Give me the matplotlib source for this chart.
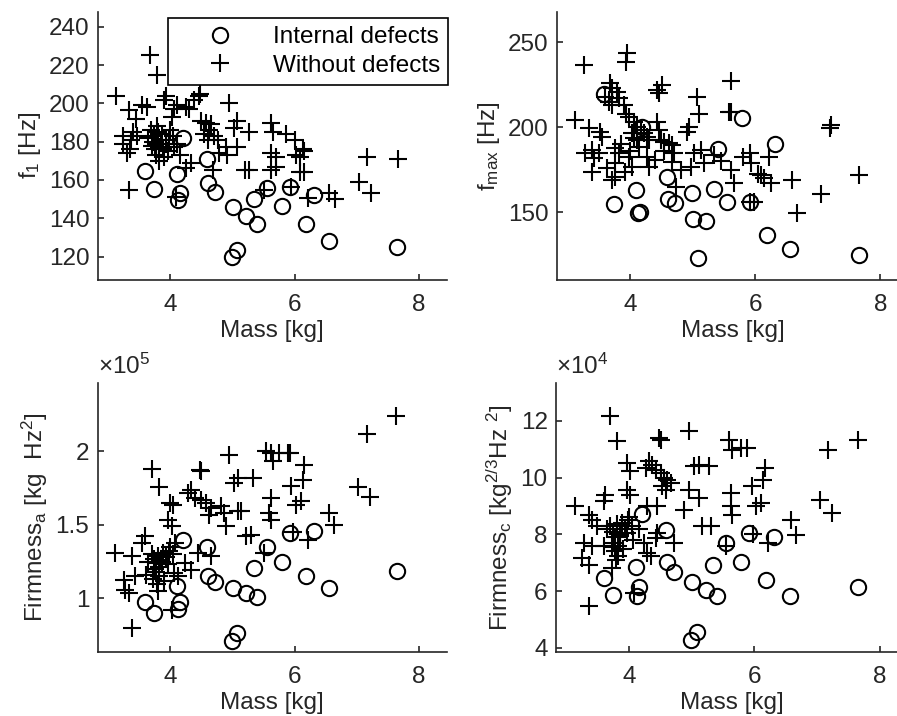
import matplotlib
matplotlib.use('Agg')
import matplotlib.pyplot as plt
from matplotlib.ticker import FuncFormatter

plt.rcParams['font.family'] = ['Liberation Sans', 'DejaVu Sans']
plt.rcParams['mathtext.fontset'] = 'custom'
plt.rcParams['mathtext.rm'] = 'Liberation Sans'
plt.rcParams['mathtext.it'] = 'Liberation Sans'
plt.rcParams['mathtext.bf'] = 'Liberation Sans:bold'

AXCOL = '#262626'
FS = 17.5

# ---- internal defects (same samples in all panels) ----
mass_def = [3.59, 3.74, 4.10, 4.13, 4.16, 4.20, 4.59, 4.60, 4.72, 5.01, 4.99, 5.08,
            5.22, 5.34, 5.40, 5.55, 5.79, 5.92, 6.19, 6.31, 6.56, 7.65]
f1_def = [164.7, 155.1, 163.0, 149.6, 153.4, 182.1, 170.8, 158.6, 153.9, 146.1, 120.0, 123.5,
          141.2, 150.1, 136.9, 156.0, 146.6, 156.2, 136.9, 152.2, 128.2, 125.2]
fmax_def = [219.4, 154.7, 163.1, 149.8, 150.5, 200.4, 171.0, 157.8, 155.3, 146.1, 161.2, 122.9,
            144.7, 163.7, 187.3, 155.9, 205.7, 156.3, 136.7, 190.2, 128.2, 124.9]
firm_a_def = [0.977, 0.898, 1.086, 0.925, 0.973, 1.396, 1.346, 1.152, 1.113, 1.068, 0.713, 0.762,
              1.034, 1.204, 1.011, 1.346, 1.249, 1.441, 1.154, 1.457, 1.072, 1.188]  # x1e5
firm_c_def = [6.45, 5.86, 6.86, 5.84, 6.15, 8.71, 8.15, 7.01, 6.68, 6.31, 4.27, 4.56,
              6.04, 6.92, 5.84, 7.71, 7.04, 8.04, 6.39, 7.92, 5.84, 6.13]  # x1e4

# ---- without defects, panel f1 ----
mass_ok_f1 = [3.68, 3.79, 3.12, 3.33, 3.45, 3.55, 3.62, 3.90, 3.93, 4.06, 4.03, 4.10, 4.25, 4.30,
              4.38, 4.46, 4.48, 4.95, 4.49, 4.57, 4.65, 4.62, 5.08, 5.03, 5.27, 5.62, 5.65, 5.86,
              6.00, 6.13, 6.16, 6.08, 6.03, 5.70, 5.62, 5.70, 5.62, 5.27, 5.21, 6.08, 6.16, 7.16,
              7.66, 7.03, 7.23, 6.56, 6.65, 6.21, 5.51, 5.94, 4.09, 3.33, 4.33, 4.25, 4.68, 4.89,
              4.92, 5.08, 4.79, 4.60, 4.54, 4.76, 4.70, 4.11, 4.15, 3.23, 3.23, 3.37, 3.35, 3.47,
              3.30, 3.40, 3.69, 3.74, 3.77, 3.80, 3.82, 3.85, 3.88, 3.77, 3.82, 3.93, 3.98, 4.04,
              4.06, 3.72, 3.75, 3.79, 3.86, 3.90, 3.96, 4.00, 3.70, 3.64]
f1_ok = [225, 215, 204, 196.5, 192, 199, 198, 202, 204, 197, 193, 199, 198, 197,
         202, 204, 205, 200, 191, 190, 189, 186, 191, 187, 185, 190, 185, 184,
         181, 176, 175, 172, 173, 172, 174, 167, 165, 165, 165, 164, 164, 172,
         171, 159, 153, 153, 150, 150.5, 155, 156.5, 151, 155, 169, 166, 165, 177,
         173, 177, 174, 181, 184, 181, 183, 179, 173, 183, 179, 181, 176, 183,
         174, 185, 186, 183, 179, 185, 177, 181, 176, 173, 170, 179, 181, 183,
         177, 180, 176, 188, 184, 172, 175, 186, 178, 182]

# ---- without defects, panel fmax ----
mass_ok_fmax = [3.26, 3.95, 3.93, 3.68, 3.71, 3.79, 3.82, 3.60, 3.66, 3.71, 3.90, 3.93, 3.98, 4.06,
                4.43, 4.46, 4.51, 5.07, 5.10, 5.61, 5.58, 3.12, 3.34, 3.52, 3.55, 4.94, 4.91, 4.11,
                4.17, 4.22, 4.27, 4.30, 4.43, 4.46, 4.03, 4.06, 4.49, 4.54, 4.62, 4.67, 3.39, 3.28,
                3.42, 3.39, 3.76, 3.82, 3.76, 3.76, 3.71, 3.98, 4.03, 4.27, 4.30, 4.70, 4.67, 4.73,
                4.81, 4.97, 5.02, 5.13, 5.18, 5.34, 5.61, 5.66, 5.91, 5.94, 5.91, 4.11, 4.14, 7.21,
                7.19, 7.66, 7.05, 6.66, 6.58, 6.22, 6.09, 6.14, 6.25, 5.98, 5.80, 3.50, 3.63, 3.86,
                3.92, 4.00, 4.40, 4.55, 5.45, 5.62, 6.04]
fmax_ok = [236.7, 243.5, 238.6, 225.9, 223.0, 221, 217, 218, 215, 213, 213, 208, 206, 203,
           222, 220, 225, 218, 208, 227, 209, 204.3, 199.4, 197.5, 194.5, 200.4, 197.5, 200.4,
           198.4, 196.5, 194.5, 192.5, 203.3, 198.4, 196.5, 193.5, 192.5, 191.6, 190.6, 189.6, 186.7, 184.7,
           181.8, 174.0, 187.6, 184.7, 178.8, 171.0, 169.0, 182.7, 176.9, 182.7, 176.9, 184.7, 179.8, 165.1,
           175, 176.9, 184.7, 186.7, 178.8, 183.7, 174.9, 167, 184.7, 178.8, 156.3, 192.5, 188.6, 201.4,
           199.4, 172.0, 160.8, 149.8, 169.0, 182.7, 172, 170, 167, 156.3, 182.7, 185, 176, 190,
           174, 186, 181, 186, 180, 209, 172.5]

# ---- without defects, panel firmness a (x1e5) ----
mass_ok_fa = [3.70, 4.47, 4.50, 3.82, 4.95, 5.03, 5.09, 5.33, 5.54, 5.62, 5.65, 5.75, 5.89, 5.94,
              5.62, 5.59, 5.62, 4.00, 4.05, 3.97, 4.02, 4.29, 4.34, 4.39, 4.50, 4.58, 4.66, 4.63,
              4.82, 4.87, 4.90, 5.09, 5.14, 5.22, 5.30, 3.59, 3.54, 3.38, 3.11, 3.25, 3.27, 3.33,
              3.43, 3.38, 4.23, 4.34, 4.45, 4.66, 4.07, 4.13, 4.02, 5.51, 7.64, 7.16, 7.02, 7.22,
              6.56, 6.64, 6.21, 6.16, 6.13, 6.11, 6.03, 5.92, 5.97, 3.70, 3.74, 3.77, 3.80, 3.82,
              3.85, 3.88, 3.77, 3.82, 3.93, 3.98, 4.04, 3.72, 3.75, 3.79, 3.86, 3.90, 3.96, 4.00,
              3.64, 3.60, 4.06, 3.80]
firm_a_ok = [1.878, 1.869, 1.862, 1.756, 1.975, 1.783, 1.817, 1.817, 1.998, 1.986, 1.930, 1.986, 1.986, 1.760,
             1.681, 1.579, 1.534, 1.647, 1.636, 1.534, 1.489, 1.715, 1.738, 1.681, 1.670, 1.647, 1.613, 1.568,
             1.624, 1.579, 1.489, 1.590, 1.590, 1.421, 1.432, 1.421, 1.376, 1.285, 1.308, 1.127, 1.059, 1.036,
             1.149, 0.799, 1.240, 1.195, 1.308, 1.285, 1.376, 1.149, 0.923, 1.310, 2.240, 2.118, 1.756, 1.688,
             1.579, 1.500, 1.398, 1.907, 1.805, 1.658, 1.636, 1.986, 1.450, 1.30, 1.27, 1.24, 1.29, 1.21,
             1.26, 1.31, 1.18, 1.15, 1.28, 1.32, 1.30, 1.13, 1.20, 1.10, 1.25, 1.12, 1.23, 1.35,
             1.25, 1.16, 1.17, 1.05]

# ---- without defects, panel firmness c (x1e4) ----
mass_ok_fc = [3.70, 3.80, 4.47, 4.50, 4.95, 3.96, 4.02, 4.31, 4.36, 4.42, 4.26, 4.50, 4.55, 4.60,
              4.66, 4.52, 4.58, 5.03, 5.11, 5.27, 4.95, 5.11, 4.87, 5.59, 5.64, 5.78, 5.88, 5.62,
              5.62, 5.64, 5.96, 3.62, 3.59, 3.96, 4.02, 3.14, 3.35, 3.40, 3.48, 3.27, 3.40, 3.24,
              3.35, 3.35, 3.72, 4.28, 4.23, 4.28, 4.34, 4.44, 4.42, 4.71, 5.16, 5.30, 5.54, 4.07,
              7.65, 7.17, 7.04, 7.23, 6.58, 6.66, 6.21, 6.16, 6.13, 6.11, 6.03, 5.97, 3.70, 3.74,
              3.77, 3.80, 3.82, 3.85, 3.88, 3.77, 3.82, 3.93, 3.98, 4.04, 3.72, 3.75, 3.79, 3.86,
              3.90, 3.96, 4.00, 3.64, 3.60, 4.06, 4.15, 4.45]
firm_c_ok = [12.16, 11.28, 11.40, 11.34, 11.64, 10.52, 10.22, 10.58, 10.46, 10.28, 10.34, 10.16, 9.99, 9.93,
             9.81, 9.69, 9.58, 10.40, 10.46, 10.40, 9.58, 9.28, 8.87, 11.34, 10.99, 11.05, 11.05, 9.46,
             8.99, 8.69, 9.69, 9.40, 9.16, 9.58, 9.40, 8.99, 8.69, 8.52, 8.28, 7.69, 7.58, 7.16,
             6.93, 5.46, 6.80, 8.99, 7.69, 7.34, 7.22, 8.05, 7.87, 7.69, 8.28, 8.28, 7.58, 5.93,
             11.34, 10.99, 9.22, 8.75, 8.50, 7.99, 7.69, 10.34, 9.93, 9.10, 8.99, 8.02, 8.30, 8.10,
             7.90, 8.35, 7.60, 8.00, 8.40, 7.40, 7.25, 8.20, 8.50, 8.30, 7.55, 7.70, 7.10, 7.95,
             7.50, 8.05, 8.60, 8.20, 7.60, 7.80, 8.20, 9.00]

x_ticks = [4, 6, 8]


def style_axes(ax):
    for side in ('top', 'right'):
        ax.spines[side].set_visible(False)
    for side in ('left', 'bottom'):
        ax.spines[side].set_color(AXCOL)
        ax.spines[side].set_linewidth(1.2)
    ax.tick_params(direction='in', length=4, width=1.2, colors=AXCOL,
                   labelsize=FS)
    ax.tick_params(axis='x', pad=10)
    ax.tick_params(axis='y', pad=6)
    ax.set_xlim(2.83, 8.45)
    ax.set_xticks(x_ticks)
    ax.set_xlabel('Mass [kg]', fontsize=FS, color=AXCOL, labelpad=3)


def scatter(ax, xd, yd, xo, yo):
    h1, = ax.plot(xd, yd, 'o', mfc='none', mec='k', ms=11, mew=1.5,
                  label='Internal defects')
    h2, = ax.plot(xo, yo, '+', color='k', ms=13, mew=1.5,
                  label='Without defects')
    return h1, h2


fig = plt.figure(figsize=(8.97, 7.16), dpi=100)
ax1 = fig.add_axes([0.1089, 0.6089, 0.3891, 0.3747])
ax2 = fig.add_axes([0.6206, 0.6089, 0.3924, 0.3747])
ax3 = fig.add_axes([0.1089, 0.0898, 0.3891, 0.3749])
ax4 = fig.add_axes([0.6198, 0.0898, 0.3924, 0.3749])

# f1
h1, h2 = scatter(ax1, mass_def, f1_def, mass_ok_f1, f1_ok)
style_axes(ax1)
ax1.set_ylim(107.8, 247.8)
ax1.set_yticks(range(120, 241, 20))
ax1.set_ylabel(r'f$_1$ [Hz]', fontsize=FS, color=AXCOL)
leg = ax1.legend(handles=[h1, h2], loc='upper right', bbox_to_anchor=(1.005, 0.978),
                 fontsize=FS, frameon=True, fancybox=False, framealpha=1,
                 edgecolor='k', borderpad=0.35, handlelength=3.6, handletextpad=0.35,
                 labelspacing=0.28, borderaxespad=0)
leg.get_frame().set_linewidth(1.2)

# fmax
scatter(ax2, mass_def, fmax_def, mass_ok_fmax, fmax_ok)
style_axes(ax2)
ax2.set_ylim(110.2, 268.0)
ax2.set_yticks([150, 200, 250])
ax2.set_ylabel(r'f$_{max}$ [Hz]', fontsize=FS, color=AXCOL)

# firmness a
scatter(ax3, mass_def, [v * 1e5 for v in firm_a_def],
        mass_ok_fa, [v * 1e5 for v in firm_a_ok])
style_axes(ax3)
ax3.set_ylim(0.638e5, 2.46e5)
ax3.set_yticks([1e5, 1.5e5, 2e5])
ax3.yaxis.set_major_formatter(FuncFormatter(lambda v, p: f'{v / 1e5:g}'))
ax3.set_ylabel(r'Firmness$_\mathrm{a}$ [kg  Hz$^2$]', fontsize=FS, color=AXCOL)
ax3.text(0, 1.015, r'$\times$10$^5$', transform=ax3.transAxes, fontsize=FS,
         color=AXCOL, ha='left', va='bottom')

# firmness c
scatter(ax4, mass_def, [v * 1e4 for v in firm_c_def],
        mass_ok_fc, [v * 1e4 for v in firm_c_ok])
style_axes(ax4)
ax4.set_ylim(3.86e4, 13.33e4)
ax4.set_yticks([4e4, 6e4, 8e4, 10e4, 12e4])
ax4.yaxis.set_major_formatter(FuncFormatter(lambda v, p: f'{v / 1e4:g}'))
ax4.set_ylabel(r'Firmness$_\mathrm{c}$ [kg$^{2/3}$Hz $^2$]', fontsize=FS, color=AXCOL)
ax4.text(0, 1.015, r'$\times$10$^4$', transform=ax4.transAxes, fontsize=FS,
         color=AXCOL, ha='left', va='bottom')

fig.savefig('out.png', dpi=100)
